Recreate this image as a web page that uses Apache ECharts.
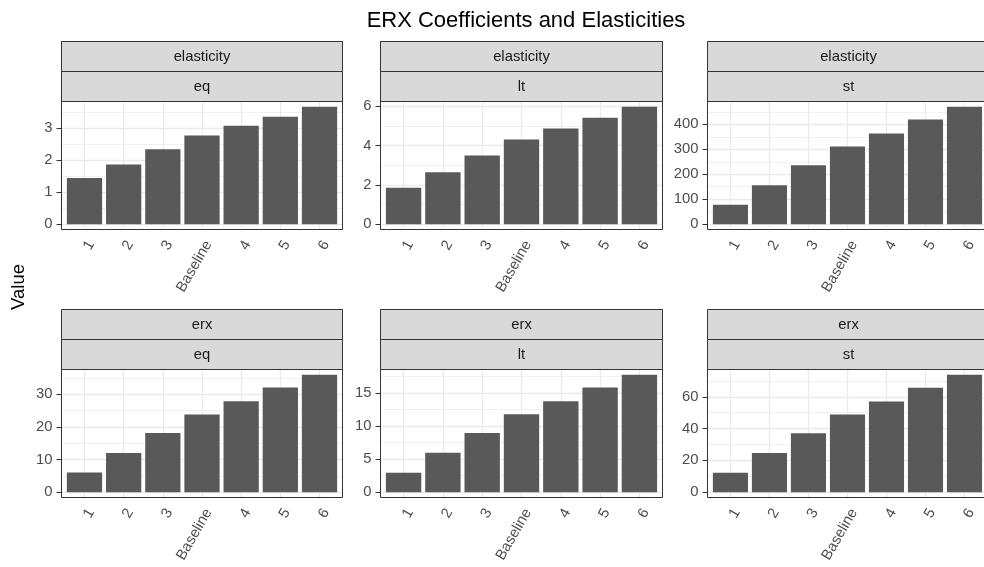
<!DOCTYPE html>
<html>
<head>
<meta charset="utf-8">
<script src="https://cdn.jsdelivr.net/npm/echarts@6/dist/echarts.min.js"></script>
<style>
  html, body { margin: 0; padding: 0; background: #fff; }
  #main { width: 984px; height: 567px; }
</style>
</head>
<body>
<div id="main"></div>
<script>
// categories on every x axis
const categories = ['1', '2', '3', 'Baseline', '4', '5', '6'];

// elasticity panels
const elasticityEq = [1.44, 1.87, 2.34, 2.77, 3.08, 3.36, 3.67];
const elasticityLt = [1.85, 2.64, 3.49, 4.30, 4.86, 5.41, 5.96];
const elasticitySt = [78, 156, 236, 311, 363, 419, 470];

// erx panels
const erxEq = [6.0, 12.0, 18.1, 23.8, 27.8, 32.0, 35.9];
const erxLt = [2.94, 5.93, 8.92, 11.76, 13.7, 15.8, 17.7];
const erxSt = [12.2, 24.7, 37.1, 48.9, 57.0, 65.7, 73.8];

// y tick labels per panel
const ticksElasticityEq = [0, 1, 2, 3];
const ticksElasticityLt = [0, 2, 4, 6];
const ticksElasticitySt = [0, 100, 200, 300, 400];
const ticksErxEq = [0, 10, 20, 30];
const ticksErxLt = [0, 5, 10, 15];
const ticksErxSt = [0, 20, 40, 60];

const panels = [
  { strip1: 'elasticity', strip2: 'eq', values: elasticityEq, ticks: ticksElasticityEq },
  { strip1: 'elasticity', strip2: 'lt', values: elasticityLt, ticks: ticksElasticityLt },
  { strip1: 'elasticity', strip2: 'st', values: elasticitySt, ticks: ticksElasticitySt },
  { strip1: 'erx', strip2: 'eq', values: erxEq, ticks: ticksErxEq },
  { strip1: 'erx', strip2: 'lt', values: erxLt, ticks: ticksErxLt },
  { strip1: 'erx', strip2: 'st', values: erxSt, ticks: ticksErxSt }
];

// layout (pixels)
const cols = [[61, 343], [380, 663], [707, 990]];
const rows = [
  { stripTop: 41, panelTop: 101, panelBottom: 230 },
  { stripTop: 309, panelTop: 369, panelBottom: 498 }
];
const FONT = '"Liberation Sans", Arial, Helvetica, sans-serif';
const TEXT_SIZE = 14.8;
const GRID_COLOR = '#EBEBEB';

const chart = echarts.init(document.getElementById('main'), null, { renderer: 'canvas' });

var grids = [], xAxes = [], yAxes = [], series = [], graphics = [];

panels.forEach(function (p, i) {
  const col = cols[i % 3];
  const row = rows[Math.floor(i / 3)];
  const x0 = col[0], x1 = col[1];
  const pw = x1 - x0;
  const ph = row.panelBottom - row.panelTop;
  const unit = pw / 7.2;           // discrete expansion 0.6 each side
  const M = Math.max.apply(null, p.values);
  const yMin = -0.05 * M, yMax = 1.05 * M;
  const step = p.ticks[1] - p.ticks[0];

  // background grid: full panel, horizontal gridlines + y axis
  grids.push({ left: x0, top: row.panelTop, width: pw, height: ph, containLabel: false });
  xAxes.push({ gridIndex: 2 * i, type: 'value', min: 0, max: 1, show: false });
  yAxes.push({
    gridIndex: 2 * i, type: 'value', min: yMin, max: yMax,
    minInterval: step, maxInterval: step,
    axisLine: { show: false },
    axisTick: { show: true, length: 4.5, customValues: p.ticks, lineStyle: { color: '#333333', width: 1 } },
    axisLabel: { customValues: p.ticks, color: '#4D4D4D', fontSize: TEXT_SIZE, fontFamily: FONT, margin: 8.5 },
    splitLine: { show: true, lineStyle: { color: GRID_COLOR, width: 1.3 } },
    minorTick: { show: false, splitNumber: 2 },
    minorSplitLine: { show: true, lineStyle: { color: GRID_COLOR, width: 0.7 } }
  });

  // data grid: bands of one unit
  grids.push({ left: x0 + 0.1 * unit, top: row.panelTop, width: 7 * unit, height: ph, containLabel: false });
  xAxes.push({
    gridIndex: 2 * i + 1, type: 'category', data: categories,
    axisLine: { show: false },
    axisTick: { alignWithLabel: true, interval: 0, length: 4.5, lineStyle: { color: '#333333', width: 1 } },
    axisLabel: {
      interval: 0, rotate: 60, margin: 8, verticalAlign: 'top',
      color: '#4D4D4D', fontSize: TEXT_SIZE, fontFamily: FONT
    },
    splitLine: { show: true, alignWithLabel: true, interval: 0, lineStyle: { color: GRID_COLOR, width: 1.3 } }
  });
  yAxes.push({ gridIndex: 2 * i + 1, type: 'value', min: yMin, max: yMax, show: false, splitLine: { show: false } });

  series.push({
    type: 'bar',
    xAxisIndex: 2 * i + 1,
    yAxisIndex: 2 * i + 1,
    data: p.values,
    barCategoryGap: '10%',
    itemStyle: { color: '#595959' },
    silent: true
  });

  // strips
  const sTop = row.stripTop;
  const sh = (row.panelTop - sTop) / 2;
  [p.strip1, p.strip2].forEach(function (label, k) {
    graphics.push({
      type: 'rect',
      shape: { x: x0 + 0.5, y: sTop + k * sh + 0.5, width: pw - 1, height: sh },
      style: { fill: '#D9D9D9', stroke: '#333333', lineWidth: 1 },
      z: 50
    });
    graphics.push({
      type: 'text',
      x: (x0 + x1) / 2, y: sTop + k * sh + sh / 2 + 1,
      style: {
        text: label, fill: '#1A1A1A', font: TEXT_SIZE + 'px ' + FONT,
        align: 'center', verticalAlign: 'middle', textAlign: 'center', textVerticalAlign: 'middle'
      },
      z: 51
    });
  });

  // panel border
  graphics.push({
    type: 'rect',
    shape: { x: x0 + 0.5, y: row.panelTop + 0.5, width: pw - 1, height: ph - 1 },
    style: { fill: 'none', stroke: '#333333', lineWidth: 1 },
    z: 50
  });
});

// title and y axis title
graphics.push({
  type: 'text', x: 526, y: 21,
  style: {
    text: 'ERX Coefficients and Elasticities', fill: '#000000', font: '22px ' + FONT,
    align: 'center', verticalAlign: 'middle', textAlign: 'center', textVerticalAlign: 'middle'
  },
  z: 60
});
graphics.push({
  type: 'text', x: 19, y: 287, rotation: Math.PI / 2,
  style: {
    text: 'Value', fill: '#000000', font: '18.5px ' + FONT,
    align: 'center', verticalAlign: 'middle', textAlign: 'center', textVerticalAlign: 'middle'
  },
  z: 60
});

var option = {
  backgroundColor: '#ffffff',
  animation: false,
  textStyle: { fontFamily: FONT },
  grid: grids,
  xAxis: xAxes,
  yAxis: yAxes,
  series: series,
  graphic: { elements: graphics }
};

chart.setOption(option);
</script>
</body>
</html>
